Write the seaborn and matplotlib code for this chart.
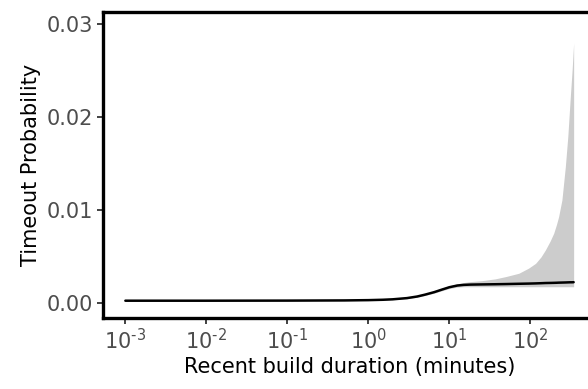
import numpy as np
import pandas as pd
import matplotlib
matplotlib.use("Agg")
import matplotlib.pyplot as plt
import seaborn as sns

# Data
duration = [0.001, 0.01, 0.1, 0.5, 1, 1.5, 2, 3, 4, 5, 6.5, 8, 10, 12.5, 15, 18, 25, 37, 50, 72,
            95, 116, 135, 153, 175, 194, 210, 223, 245, 270, 290, 311, 328, 342]
fit      = [0.00030, 0.00030, 0.00031, 0.00033, 0.00036, 0.00040, 0.00045, 0.00058, 0.00075, 0.00095,
            0.00122, 0.00148, 0.00175, 0.00193, 0.00200, 0.00203, 0.00205, 0.00207, 0.00209, 0.00212,
            0.00214, 0.00216, 0.00218, 0.00220, 0.00221, 0.00222, 0.00223, 0.00224, 0.00225, 0.00226,
            0.00227, 0.00228, 0.00228, 0.00229]
lower    = [0.00028, 0.00028, 0.00029, 0.00031, 0.00033, 0.00036, 0.00041, 0.00052, 0.00067, 0.00086,
            0.00111, 0.00136, 0.00161, 0.00176, 0.00180, 0.00180, 0.00180, 0.00180, 0.00180, 0.00180,
            0.00180, 0.00180, 0.00180, 0.00180, 0.00180, 0.00180, 0.00180, 0.00180, 0.00180, 0.00180,
            0.00180, 0.00180, 0.00180, 0.00180]
upper    = [0.00032, 0.00032, 0.00033, 0.00036, 0.00040, 0.00046, 0.00053, 0.00068, 0.00086, 0.00105,
            0.00135, 0.00162, 0.00190, 0.00212, 0.00225, 0.00235, 0.00245, 0.00265, 0.00290, 0.00325,
            0.00380, 0.00432, 0.00500, 0.00575, 0.00670, 0.00755, 0.00850, 0.00933, 0.01113, 0.01470,
            0.01800, 0.02220, 0.02520, 0.02800]
yticks = [0.00, 0.01, 0.02, 0.03]
yticklabels = ["0.00", "0.01", "0.02", "0.03"]
xticks = [1e-3, 1e-2, 1e-1, 1e0, 1e1, 1e2]
xticklabels = [r"$\mathregular{10^{\text{-}3}}$", r"$\mathregular{10^{\text{-}2}}$",
               r"$\mathregular{10^{\text{-}1}}$", r"$\mathregular{10^{0}}$",
               r"$\mathregular{10^{1}}$", r"$\mathregular{10^{2}}$"]

df = pd.DataFrame({"duration": duration, "fit": fit, "lower": lower, "upper": upper})

sns.set_theme(style="white")
plt.rcParams["font.family"] = ["DejaVu Sans"]

fig = plt.figure(figsize=(5.88, 3.89), dpi=100)
fig.patch.set_facecolor("white")
ax = fig.add_axes([103/588, 1-318/389, (596-103)/588, (318-12)/389])

ax.fill_between(df["duration"], df["lower"], df["upper"], color="#cccccc", linewidth=0, zorder=1)
sns.lineplot(data=df, x="duration", y="fit", ax=ax, color="black", linewidth=1.8, zorder=2)

ax.set_xscale("log")
ax.set_xlim(10**(-3 - 0.276), 10**(2.534 + 0.276))
ax.set_ylim(-0.00156, 0.03134)
ax.set_xticks(xticks)
ax.set_xticklabels(xticklabels)
ax.minorticks_off()
ax.set_yticks(yticks)
ax.set_yticklabels(yticklabels)

ax.tick_params(axis="both", which="major", length=4, width=1.3, color="#333333",
               labelcolor="#4d4d4d", labelsize=15, pad=3, bottom=True, left=True)
ax.set_xlabel("Recent build duration (minutes)", fontsize=15, color="black", labelpad=3)
ax.set_ylabel("Timeout Probability", fontsize=15, color="black", labelpad=4)

for side in ["left", "bottom", "top"]:
    ax.spines[side].set_visible(True)
    ax.spines[side].set_color("black")
    ax.spines[side].set_linewidth(2.4)
ax.spines["right"].set_visible(False)

fig.savefig("out.png", dpi=100, facecolor="white")
